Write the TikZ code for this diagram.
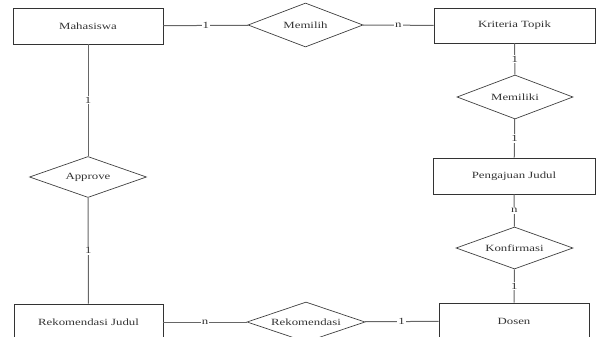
\documentclass[tikz,border=0pt]{standalone}
\usepackage{fontspec}
\setmainfont{Liberation Serif}[FakeStretch=1.35]
\usetikzlibrary{shapes.geometric}
\begin{document}
\begin{tikzpicture}[x=1pt,y=-1pt,
  entity/.style={draw=black!80,line width=0.8pt,rectangle,inner sep=0pt,font=\fontsize{9.5}{11}\selectfont,text=black!80},
  rel/.style={draw=black!75,line width=0.7pt,diamond,aspect=2.6,inner sep=0pt,font=\fontsize{9.5}{11}\selectfont,text=black!80},
  conn/.style={draw=black!60,line width=1pt},
  card/.style={fill=white,inner sep=1pt,font=\fontsize{9.5}{11}\selectfont,text=black!80}]
\useasboundingbox (0,0) rectangle (600,337);
\node[entity,minimum width=150pt,minimum height=36pt] (mhs) at (88,26) {Mahasiswa};
\node[entity,minimum width=161pt,minimum height=35pt] (kt) at (514.5,25.5) {Kriteria Topik};
\node[entity,minimum width=162pt,minimum height=36pt] (pj) at (514,176) {Pengajuan Judul};
\node[entity,minimum width=150pt,minimum height=36pt] (dsn) at (514,321) {Dosen};
\node[entity,minimum width=149pt,minimum height=36pt] (rj) at (88.5,322) {Rekomendasi Judul};
\node[rel,minimum width=115pt,minimum height=44pt] (memilih) at (305.5,25) {Memilih};
\node[rel,minimum width=116pt,minimum height=44pt] (memiliki) at (515,97) {Memiliki};
\node[rel,minimum width=117pt,minimum height=41pt] (approve) at (88,177) {Approve};
\node[rel,minimum width=117pt,minimum height=42pt] (konf) at (514.5,248) {Konfirmasi};
\node[rel,minimum width=118pt,minimum height=40pt] (rek) at (306,322) {Rekomendasi};
\draw[conn] (mhs) -- node[card] {1} (memilih);
\draw[conn] (memilih) -- node[card] {n} (kt);
\draw[conn] (kt) -- node[card] {1} (memiliki);
\draw[conn] (memiliki) -- node[card] {1} (pj);
\draw[conn] (pj) -- node[card] {n} (konf);
\draw[conn] (konf) -- node[card] {1} (dsn);
\draw[conn] (mhs) -- node[card] {1} (approve);
\draw[conn] (approve) -- node[card] {1} (rj);
\draw[conn] (rj) -- node[card] {n} (rek);
\draw[conn] (rek) -- node[card] {1} (dsn);
\end{tikzpicture}
\end{document}
